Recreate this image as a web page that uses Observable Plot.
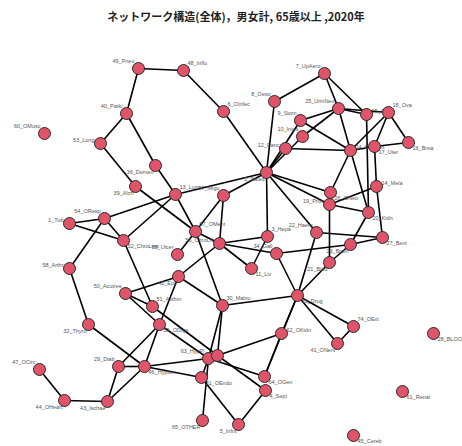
<!DOCTYPE html>
<html><head><meta charset="utf-8">
<script src="https://cdn.jsdelivr.net/npm/d3@7"></script>
<script src="https://cdn.jsdelivr.net/npm/@observablehq/plot@0.6"></script>
<style>
body{margin:0;background:#fff;font-family:"Noto Sans CJK JP","Noto Sans",sans-serif;}
#title{height:30px;line-height:32px;text-align:center;font-weight:bold;font-size:11px;color:#222;padding-left:10px;}
</style></head>
<body>
<div id="title">ネットワーク構造(全体)，男女計, 65歳以上 ,2020年</div>
<div id="chart"></div>
<script>
// node ids, labels, layout coordinates, label placement
const ids = ["49","48","7","8","25","6","40","15","18","9","60","10","53","16","12","24","17","36","2","39","14","26","13","37","19","20","54","1","57","22","3","27","52","56","23","34","55","21","58","11","42","50","33","30","51","32","59","74","62","28","41","63","38","29","46","47","64","31","4","61","44","43","65","5","45"];
const labels = ["49_Pneu","48_Influ","7_UpAero","8_Oeso","25_UrinNeo","6_OInfec","40_Parki","15_Gall","18_Ova","9_Stom","60_OMusc","10_Intes","53_Lung","16_Brea","12_Panc","24_SecNeo","17_Uter","36_Demen","2_Saled","39_Alzh","14_Mela","26_ONeo","13_Lung","37_Mtgu","19_Pros","20_Kidn","54_OResp","1_Tub","57_OMent","22_Haem","3_Hepa","27_Beni","52_ChroLow","56_ChroLiv","23_Brain","34_Gall","55_Ulcer","21_Blad","58_Arthr","11_Liv","42_Epil","50_Acutres","33_Drug","30_Malnu","51_Asthm","32_Thyro","59_ODige","74_OExt","62_OKidn","28_BLOOD","41_ONerv","63_HypPl","38_Digest","29_Diab","46_Hypten","47_OCirc","64_OGen","31_OEndo","4_Sept","61_Renal","44_OHeart","43_Ischae","65_OTHER","5_Infnt","45_Cereb"];
const xs = [138,183,324,274,338,223,126,366,388,300,44,302,100,408,285,350,374,155,266,135,376,330,175,223,329,368,104,69,195,316,267,382,123,219,350,276,177,329,69,251,178,125,297,222,152,88,159,353,281,433,337,208,217,118,144,39,264,201,265,402,64,107,202,238,353];
const ys = [68,70,73,101,108,111,113,114,112,120,133,136,143,142,148,150,146,165,172,186,186,192,194,195,204,212,218,223,231,232,236,237,240,243,244,253,254,262,268,268,276,293,295,305,306,324,324,326,333,333,343,358,355,366,366,369,376,377,390,391,400,401,420,424,435];
const place = ["ul","ur","ul","ul","ul","ur","ul","r","ur","ul","ul","ul","l","rb","l","r","rb","lb","lb","lb","r","rb","ur","ul","l","rb","ul","l","ur","ul","ur","rb","rb","l","lb","ul","ul","lb","l","rb","lb","ul","rb","ur","ur","lb","rb","ur","r","rb","lb","ul","none","ul","rb","ul","rb","rb","rb","rb","lb","lb","lb","lb","rb"];
const edgeFrom = ["49","49","48","6","40","40","53","36","39","54","1","1","54","54","52","52","58","32","50","50","50","59","59","47","44","43","43","29","46","46","42","42","57","57","37","13","13","7","7","7","8","25","25","25","25","25","2","2","2","9","12","15","18","18","18","16","17","17","24","24","14","19","19","19","26","14","20","22","22","22","23","34","21","21","2","3","3","56","56","57","34","57","30","30","30","33","33","62","33","33","74","62","63","63","31","4","63","38","59","51","37","42"];
const edgeTo   = ["48","40","6","2","53","36","39","13","57","13","54","52","52","58","13","51","32","46","42","51","59","29","46","44","43","29","46","46","63","31","30","56","30","37","56","57","2","8","25","15","2","15","18","9","24","10","12","10","9","24","24","20","16","17","24","17","14","24","26","20","19","2","20","21","2","27","23","27","2","33","27","23","33","23","3","56","11","34","11","56","33","55","33","63","38","62","64","64","74","41","41","38","31","65","5","5","64","4","63","38","2","59"];

const nodes = ids.map((id,i)=>({id,label:labels[i],x:xs[i],y:ys[i],place:place[i]}));
const byId = new Map(nodes.map(n=>[n.id,n]));
const edges = edgeFrom.map((s,i)=>({s:byId.get(s),t:byId.get(edgeTo[i])}));

const P = {
  ul:{dx:-4,dy:-7,a:"end"}, ur:{dx:4,dy:-7,a:"start"}, l:{dx:-6,dy:-3,a:"end"},
  r:{dx:5,dy:-3,a:"start"}, rb:{dx:4,dy:6,a:"start"}, lb:{dx:-2,dy:7,a:"end"}
};
const textMarks = Object.entries(P).map(([k,o])=>Plot.text(nodes.filter(n=>n.place===k),{
  x:"x",y:"y",text:"label",dx:o.dx,dy:o.dy,textAnchor:o.a,fontSize:5.5,fill:"#555",
  fontFamily:"Liberation Sans, Arial, sans-serif"}));

const chart = Plot.plot({
  width:462,height:416,margin:0,
  x:{domain:[0,462],axis:null},
  y:{domain:[30,446],axis:null,reverse:true},
  marks:[
    Plot.link(edges,{x1:d=>d.s.x,y1:d=>d.s.y,x2:d=>d.t.x,y2:d=>d.t.y,stroke:"#000",strokeWidth:1.6}),
    ...textMarks,
    Plot.dot(nodes,{x:"x",y:"y",r:6,fill:"#E0546A",stroke:"#2a2a2a",strokeWidth:1})
  ]
});
document.getElementById("chart").appendChild(chart);
</script>
</body></html>
